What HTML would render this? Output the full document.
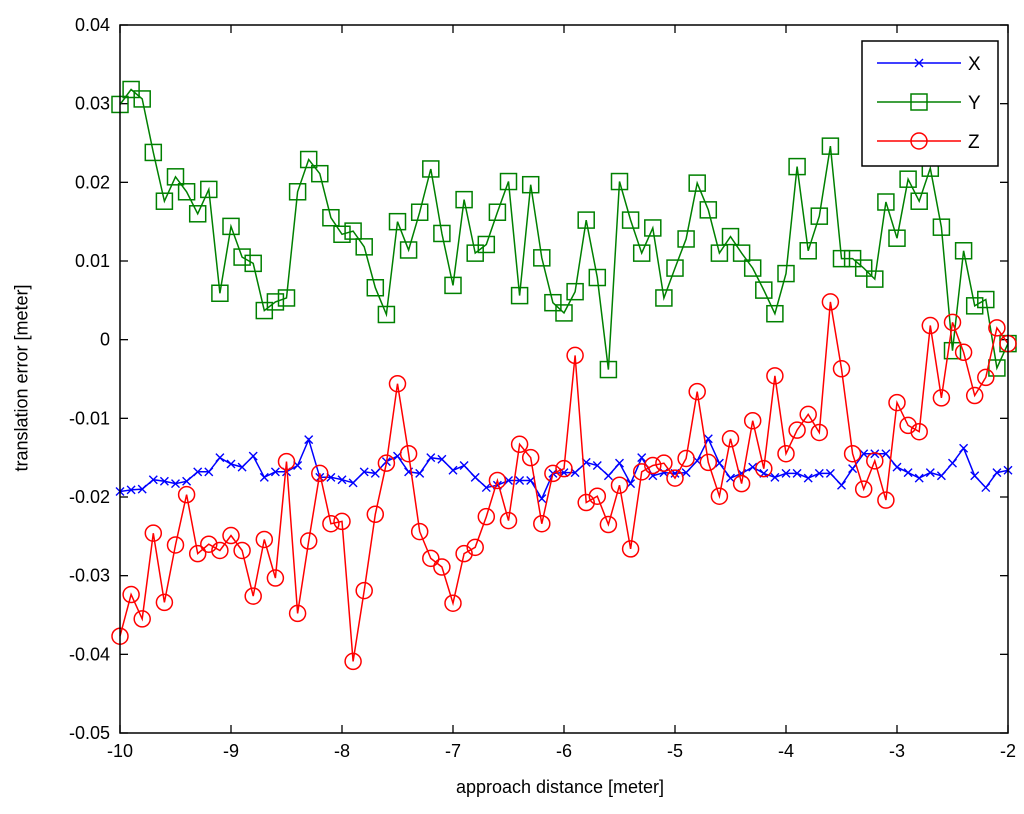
<!DOCTYPE html>
<html><head><meta charset="utf-8"><style>
body{margin:0;background:#fff;}
svg{display:block;font-family:"Liberation Sans",Arial,sans-serif;}
</style></head><body>
<svg id="chart" width="1024" height="814" viewBox="0 0 1024 814" xmlns="http://www.w3.org/2000/svg">
<rect x="0" y="0" width="1024" height="814" fill="#fff"/>
<g id="plot"></g>
</svg>
<script>
const xTicks = [-10,-9,-8,-7,-6,-5,-4,-3,-2];
const yTicks = [0.04,0.03,0.02,0.01,0,-0.01,-0.02,-0.03,-0.04,-0.05];
const yTickLabels = ["0.04","0.03","0.02","0.01","0","-0.01","-0.02","-0.03","-0.04","-0.05"];
const xPos = [-10.0,-9.9,-9.8,-9.7,-9.6,-9.5,-9.4,-9.3,-9.2,-9.1,-9.0,-8.9,-8.8,-8.7,-8.6,-8.5,-8.4,-8.3,-8.2,-8.1,-8.0,-7.9,-7.8,-7.7,-7.6,-7.5,-7.4,-7.3,-7.2,-7.1,-7.0,-6.9,-6.8,-6.7,-6.6,-6.5,-6.4,-6.3,-6.2,-6.1,-6.0,-5.9,-5.8,-5.7,-5.6,-5.5,-5.4,-5.3,-5.2,-5.1,-5.0,-4.9,-4.8,-4.7,-4.6,-4.5,-4.4,-4.3,-4.2,-4.1,-4.0,-3.9,-3.8,-3.7,-3.6,-3.5,-3.4,-3.3,-3.2,-3.1,-3.0,-2.9,-2.8,-2.7,-2.6,-2.5,-2.4,-2.3,-2.2,-2.1,-2.0];
const xErr = [-0.0193,-0.0191,-0.019,-0.0178,-0.018,-0.0183,-0.018,-0.0168,-0.0168,-0.015,
-0.0158,-0.0162,-0.0148,-0.0175,-0.0168,-0.0168,-0.016,-0.0127,-0.0175,-0.0175,
-0.0178,-0.0182,-0.0168,-0.017,-0.0155,-0.0148,-0.0168,-0.017,-0.015,-0.0152,
-0.0166,-0.016,-0.0175,-0.0188,-0.0185,-0.0179,-0.0179,-0.0179,-0.0202,-0.017,
-0.0169,-0.0169,-0.0156,-0.016,-0.0173,-0.0157,-0.0183,-0.015,-0.0173,-0.0169,
-0.017,-0.0169,-0.0154,-0.0126,-0.0157,-0.0176,-0.017,-0.0162,-0.017,-0.0175,
-0.017,-0.017,-0.0176,-0.017,-0.017,-0.0185,-0.0164,-0.0145,-0.0145,-0.0145,
-0.0162,-0.0169,-0.0176,-0.0169,-0.0173,-0.0157,-0.0138,-0.0173,-0.0188,-0.0169,
-0.0166];
const yErr = [0.0299,0.0318,0.0306,0.0238,0.0176,0.0207,0.0188,0.0160,0.0191,0.0059,
0.0144,0.0105,0.0097,0.0037,0.0048,0.0053,0.0188,0.0229,0.0211,0.0155,
0.0134,0.0138,0.0118,0.0066,0.0032,0.0150,0.0114,0.0162,0.0217,0.0135,
0.0069,0.0178,0.0110,0.0121,0.0162,0.0201,0.0056,0.0197,0.0104,0.0047,
0.0034,0.0061,0.0152,0.0079,-0.0038,0.0201,0.0152,0.0110,0.0142,0.0053,
0.0091,0.0128,0.0199,0.0165,0.0110,0.0131,0.0110,0.0091,0.0063,0.0033,
0.0084,0.0220,0.0113,0.0157,0.0246,0.0103,0.0103,0.0091,0.0077,0.0175,
0.0129,0.0204,0.0176,0.0218,0.0143,-0.0014,0.0113,0.0043,0.0051,-0.0036,
-0.0005];
const zErr = [-0.0377,-0.0324,-0.0355,-0.0246,-0.0334,-0.0261,-0.0197,-0.0272,-0.0260,-0.0268,
-0.0249,-0.0268,-0.0326,-0.0254,-0.0303,-0.0155,-0.0348,-0.0256,-0.0170,-0.0234,
-0.0231,-0.0409,-0.0319,-0.0222,-0.0157,-0.0056,-0.0145,-0.0244,-0.0278,-0.0289,
-0.0335,-0.0272,-0.0264,-0.0225,-0.0179,-0.0230,-0.0133,-0.0150,-0.0234,-0.0170,
-0.0164,-0.0020,-0.0207,-0.0199,-0.0235,-0.0185,-0.0266,-0.0168,-0.0160,-0.0157,
-0.0176,-0.0151,-0.0066,-0.0156,-0.0199,-0.0126,-0.0183,-0.0103,-0.0164,-0.0046,
-0.0145,-0.0115,-0.0095,-0.0118,0.0048,-0.0037,-0.0145,-0.0190,-0.0154,-0.0204,
-0.0080,-0.0109,-0.0117,0.0018,-0.0074,0.0022,-0.0016,-0.0071,-0.0048,0.0015,
-0.0005];

const L=120,R=1008,T=25,B=733;
function sx(v){return L+(v+10)/8*(R-L);}
function sy(v){return T+(0.04-v)/0.09*(B-T);}
const NS="http://www.w3.org/2000/svg";
const g=document.getElementById('plot');
function el(tag,attrs,parent){const e=document.createElementNS(NS,tag);for(const k in attrs)e.setAttribute(k,attrs[k]);(parent||g).appendChild(e);return e;}

xTicks.forEach((t,i)=>{
  const x=sx(t);
  const a=el('line',{x1:x,y1:B,x2:x,y2:B-8,stroke:'#000','stroke-width':1.3});
  
  
  const b=el('line',{x1:x,y1:T,x2:x,y2:T+8,stroke:'#000','stroke-width':1.3});
  
  
  const tx=el('text',{x:x,y:757,'text-anchor':'middle','font-size':18,fill:'#000'});
  tx.textContent=String(t);
  
  
});
yTicks.forEach((t,i)=>{
  const y=sy(t);
  const a=el('line',{x1:L,y1:y,x2:L+8,y2:y,stroke:'#000','stroke-width':1.3});
  
  
  const b=el('line',{x1:R,y1:y,x2:R-8,y2:y,stroke:'#000','stroke-width':1.3});
  
  
  const tx=el('text',{x:110,y:y+6,'text-anchor':'end','font-size':18,fill:'#000'});
  tx.textContent=yTickLabels[i];
  
  
});

function series(vals,color,marker,name){
  const grp=el('g',{});
  
  
  const pts=vals.map((v,i)=>sx(xPos[i]).toFixed(1)+','+sy(v).toFixed(1)).join(' ');
  const pl=el('polyline',{points:pts,fill:'none',stroke:color,'stroke-width':1.5},grp);
  
  
  vals.forEach((v,i)=>{
    const m=drawMarker(sx(xPos[i]),sy(v),color,marker,grp);
    
    
  });
}
function drawMarker(x,y,color,marker,parent){
  if(marker==='x'){
    return el('path',{d:`M${x-4},${y-4}L${x+4},${y+4}M${x-4},${y+4}L${x+4},${y-4}`,stroke:color,'stroke-width':1.4,fill:'none'},parent);
  } else if(marker==='s'){
    return el('rect',{x:x-8,y:y-8,width:16,height:16,stroke:color,'stroke-width':1.5,fill:'none'},parent);
  } else {
    return el('circle',{cx:x,cy:y,r:8,stroke:color,'stroke-width':1.5,fill:'none'},parent);
  }
}
series(xErr,'#0000ff','x','x-error');
series(yErr,'#008000','s','y-error');
series(zErr,'#ff0000','o','z-error');

const box=el('rect',{x:L,y:T,width:R-L,height:B-T,fill:'none',stroke:'#000','stroke-width':1.5});



const lg=el('g',{});


el('rect',{x:862,y:41,width:136,height:125,fill:'#fff',stroke:'#000','stroke-width':1.5},lg);
const legItems=[['X','#0000ff','x',63],['Y','#008000','s',102],['Z','#ff0000','o',141]];
legItems.forEach(it=>{
  const e=el('g',{},lg);
  
  
  el('line',{x1:877,y1:it[3],x2:961,y2:it[3],stroke:it[1],'stroke-width':1.5},e);
  drawMarker(919,it[3],it[1],it[2],e);
  const t=el('text',{x:968,y:it[3]+7,'font-size':19,fill:'#000'},e);
  t.textContent=it[0];
});
</script>
<div style="position:absolute;left:0;top:0;width:1024px;height:814px;pointer-events:none;">
<div style="position:absolute;left:0;width:1120px;top:777px;text-align:center;font:18px 'Liberation Sans',Arial,sans-serif;">approach distance [meter]</div>
<div style="position:absolute;left:22px;top:378px;transform:translate(-50%,-50%) rotate(-90deg);white-space:nowrap;font:18px 'Liberation Sans',Arial,sans-serif;">translation error [meter]</div>
</div>
</body></html>
